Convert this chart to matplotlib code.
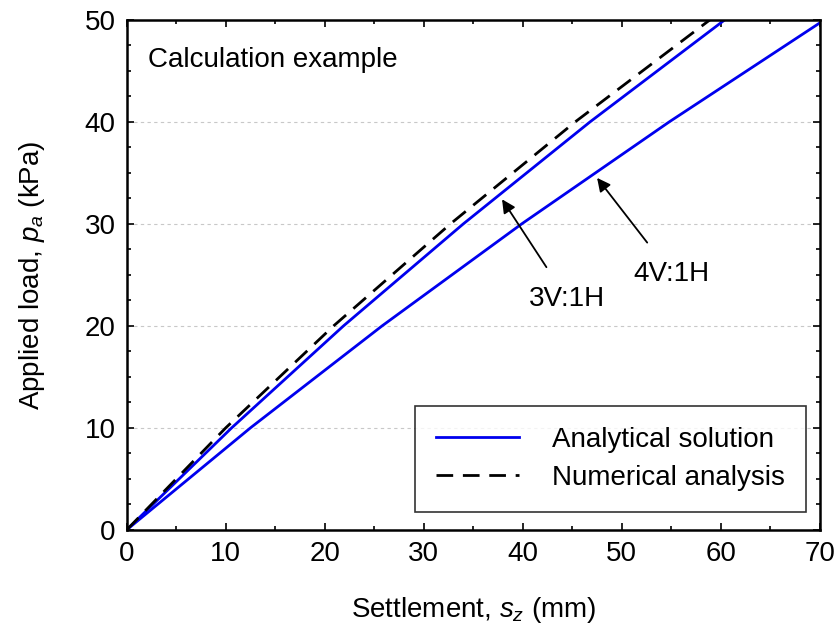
import matplotlib
matplotlib.use("Agg")
import matplotlib.pyplot as plt
from matplotlib.ticker import MultipleLocator

plt.rcParams['font.family'] = ['Liberation Sans', 'DejaVu Sans']
plt.rcParams['mathtext.fontset'] = 'custom'
plt.rcParams['mathtext.rm'] = 'Liberation Sans'
plt.rcParams['mathtext.it'] = 'Liberation Sans:italic'

# Data (settlement mm, load kPa)
s_4v = [0, 12.5, 25.8, 39.9, 54.8, 70.0]
p_4v = [0, 10, 20, 30, 40, 49.7]
s_3v = [0, 10.6, 21.9, 34.0, 46.8, 60.4]
p_3v = [0, 10, 20, 30, 40, 50]
s_num = [0, 10.0, 20.9, 32.7, 45.3, 58.9]
p_num = [0, 10, 20, 30, 40, 50]

FS = 20
fig = plt.figure(figsize=(8.4, 6.39), dpi=100)
ax = fig.add_axes([0.151, 0.171, 0.825, 0.798])

ax.plot(s_4v, p_4v, color='#0000ee', lw=2.0, label='Analytical solution')
ax.plot(s_3v, p_3v, color='#0000ee', lw=2.0)
ax.plot(s_num, p_num, color='black', lw=2.0, dashes=(6, 3.5), label='Numerical analysis')

ax.set_xlim(0, 70)
ax.set_ylim(0, 50)
ax.xaxis.set_major_locator(MultipleLocator(10))
ax.xaxis.set_minor_locator(MultipleLocator(5))
ax.yaxis.set_major_locator(MultipleLocator(10))
ax.yaxis.set_minor_locator(MultipleLocator(2.5))
ax.tick_params(which='both', direction='in', top=True, right=True, labelsize=FS, width=1.2)
ax.tick_params(which='major', length=5, pad=8)
ax.tick_params(which='minor', length=3)
for sp in ax.spines.values():
    sp.set_linewidth(1.8)
ax.yaxis.grid(True, color='#c8c8c8', ls=(0, (3, 3)), lw=0.8)

ax.set_xlabel('Settlement, $s_z$ (mm)', fontsize=FS, labelpad=20)
ax.set_ylabel('Applied load, $p_a$ (kPa)', fontsize=FS, labelpad=27)

ax.text(2.1, 46.1, 'Calculation example', fontsize=FS, va='center', ha='left')

ax.annotate('3V:1H', xy=(37.9, 32.4), xytext=(44.5, 22.6), fontsize=FS,
            ha='center', va='center',
            arrowprops=dict(arrowstyle='-|>', color='black', lw=1.3,
                            mutation_scale=20, shrinkA=14, shrinkB=0))
ax.annotate('4V:1H', xy=(47.5, 34.5), xytext=(55.0, 25.1), fontsize=FS,
            ha='center', va='center',
            arrowprops=dict(arrowstyle='-|>', color='black', lw=1.3,
                            mutation_scale=20, shrinkA=14, shrinkB=0))

leg = ax.legend(loc='lower right', bbox_to_anchor=(0.98, 0.035), fontsize=FS,
                frameon=True, fancybox=False, edgecolor='black',
                handlelength=3.0, handletextpad=1.2, borderpad=0.75,
                labelspacing=0.45, borderaxespad=0)
leg.get_frame().set_linewidth(1.2)

fig.savefig('out.png', dpi=100)
